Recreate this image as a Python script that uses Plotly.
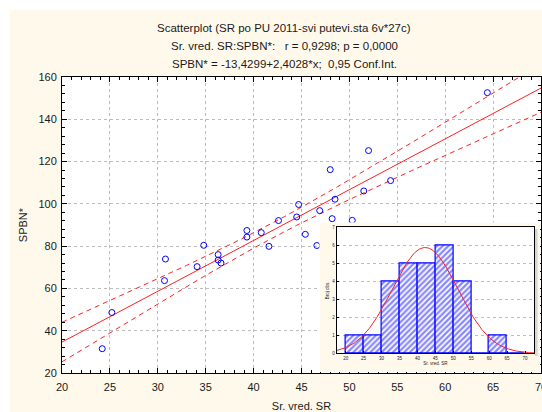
import numpy as np
import plotly.graph_objects as go

# Sr. vred. SR (x) and SPBN* (y) for the 27 cases
sr_mean = [24.2, 25.2, 30.8, 30.7, 34.1, 34.8, 36.3, 36.3, 36.6, 39.3, 39.3,
           40.8, 41.6, 42.6, 44.5, 44.7, 45.4, 46.6, 46.9, 48.0, 48.2, 48.5,
           50.3, 51.5, 52.0, 54.3, 64.4]
spbn = [31.5, 48.6, 73.9, 63.7, 70.3, 80.4, 76.0, 73.4, 72.0, 87.4, 84.3,
        86.4, 79.9, 92.1, 93.8, 99.7, 85.6, 80.3, 96.8, 116.2, 93.0, 102.2,
        92.2, 106.1, 125.2, 111.0, 152.6]

# fitted line and statistics reported in the header
intercept = -13.4299
slope = 2.4028
r_value = 0.9298
p_value = 0.0
conf_level = 0.95
t_crit = 2.0595  # Student t, 25 df, two-sided 95 %

x_ticks = list(range(20, 71, 5))
y_ticks = list(range(20, 161, 20))
hist_ticks = list(range(20, 71, 5))
hist_counts_ticks = list(range(0, 8))
bin_start, bin_size, bin_end = 20, 5, 70

x = np.array(sr_mean)
y = np.array(spbn)
n = len(x)


def dec(v, nd=4):
    return f"{v:.{nd}f}".replace(".", ",")


# regression line with its 95 % confidence band for the mean
xs = np.linspace(20, 70, 201)
fit = intercept + slope * xs
resid = y - (intercept + slope * x)
s_res = np.sqrt(np.sum(resid ** 2) / (n - 2))
sxx = np.sum((x - x.mean()) ** 2)
half = t_crit * s_res * np.sqrt(1.0 / n + (xs - x.mean()) ** 2 / sxx)

# histogram of x with a fitted normal curve
edges = np.arange(bin_start, bin_end + bin_size, bin_size)
counts, _ = np.histogram(x, bins=edges)
centers = edges[:-1] + bin_size / 2
mu, sd = x.mean(), x.std(ddof=1)
xn = np.linspace(17.5, 72.5, 300)
yn = n * bin_size / (sd * np.sqrt(2 * np.pi)) * np.exp(-0.5 * ((xn - mu) / sd) ** 2)

CREAM = "#fff9ec"
RED = "#ff2020"
BLUE = "#0000ff"
TXT = "#1a1a1a"
FONT = "Liberation Sans, Arial, sans-serif"

fig = go.Figure()

fig.add_trace(go.Scatter(x=xs, y=fit + half, mode="lines",
                         line=dict(color=RED, width=1, dash="5px,4px"),
                         hoverinfo="skip"))
fig.add_trace(go.Scatter(x=xs, y=fit - half, mode="lines",
                         line=dict(color=RED, width=1, dash="5px,4px"),
                         hoverinfo="skip"))
fig.add_trace(go.Scatter(x=xs, y=fit, mode="lines",
                         line=dict(color=RED, width=1), hoverinfo="skip"))
fig.add_trace(go.Scatter(x=x, y=y, mode="markers",
                         marker=dict(symbol="circle-open", size=6,
                                     color=BLUE, line=dict(width=1))))

# panel holding the inset histogram
fig.add_trace(go.Scatter(x=[], y=[], xaxis="x2", yaxis="y2", hoverinfo="skip"))

fig.add_trace(go.Bar(x=centers, y=counts, width=bin_size, xaxis="x3", yaxis="y3",
                     marker=dict(color="white",
                                 line=dict(color=BLUE, width=1.2),
                                 pattern=dict(shape="/", fgcolor="#1010ff",
                                              bgcolor="white", size=4,
                                              solidity=0.55))))
fig.add_trace(go.Scatter(x=xn, y=yn, mode="lines", xaxis="x3", yaxis="y3",
                         line=dict(color=RED, width=1), hoverinfo="skip"))

grid = dict(showgrid=True, gridcolor="#bdbdbd", griddash="dot", gridwidth=1)

fig.update_layout(
    width=542, height=412,
    margin=dict(l=62, r=1, t=77, b=39),
    paper_bgcolor=CREAM, plot_bgcolor="white",
    showlegend=False,
    font=dict(family=FONT, size=11, color=TXT),
    bargap=0,
    xaxis=dict(range=[20, 70], tickvals=x_ticks, ticks="inside", ticklen=5,
               tickcolor="black", showline=True, linecolor="black",
               linewidth=1, mirror="allticks", zeroline=False,
               ticklabeloverflow="allow", ticklabelstandoff=4,
               automargin=False,
               minor=dict(dtick=1, tick0=20, ticks="inside", ticklen=3,
                          tickcolor="black", showgrid=False),
               title=dict(text="Sr. vred. SR", standoff=12,
                          font=dict(size=11)),
               tickfont=dict(size=11), **grid),
    yaxis=dict(range=[20, 160], tickvals=y_ticks, ticks="inside", ticklen=5,
               tickcolor="black", showline=True, linecolor="black",
               linewidth=1, mirror="allticks", zeroline=False,
               ticklabelstandoff=2, automargin=False,
               minor=dict(dtick=4, tick0=20, ticks="inside", ticklen=3,
                          tickcolor="black", showgrid=False),
               title=dict(text="SPBN*", standoff=8, font=dict(size=11)),
               tickfont=dict(size=11), **grid),
    xaxis2=dict(domain=[0.5376, 0.998], range=[0, 1], visible=False,
                anchor="y2", fixedrange=True, automargin=False),
    yaxis2=dict(domain=[0.0034, 0.5084], range=[0, 1], visible=False,
                anchor="x2", fixedrange=True, automargin=False),
    xaxis3=dict(domain=[0.5735, 0.9854], range=[17.5, 72.5],
                tickvals=hist_ticks, ticks="inside", ticklen=2,
                tickcolor="black", showline=True, linecolor="black",
                linewidth=1, mirror=True, showgrid=False, zeroline=False,
                anchor="y3", tickfont=dict(size=4.5), automargin=False,
                title=dict(text="Sr. vred. SR", standoff=1,
                           font=dict(size=4.5))),
    yaxis3=dict(domain=[0.0666, 0.4916], range=[0, 7],
                tickvals=hist_counts_ticks, ticks="inside", ticklen=2,
                tickcolor="black", showline=True, linecolor="black",
                linewidth=1, mirror=True, zeroline=False,
                anchor="x3", tickfont=dict(size=4.5), automargin=False,
                title=dict(text="Broj obs.", standoff=2,
                           font=dict(size=4.5)),
                **grid),
    shapes=[
        # cream backing of the inset panel
        dict(type="rect", xref="x2", yref="y2", x0=0, x1=1, y0=0, y1=1,
             fillcolor=CREAM, line=dict(width=0), layer="below"),
        # soft shadow along the right edge of the inset frame
        dict(type="rect", xref="x2", yref="y2", x0=0.975, x1=0.989,
             y0=0.107, y1=0.957, fillcolor="#d6d6d6", line=dict(width=0),
             layer="below"),
        # white outer strips at the top and left of the canvas
        dict(type="rect", xref="paper", yref="paper", x0=-0.1294, x1=-0.1086,
             y0=-0.1318, y1=1.2601, fillcolor="white", line=dict(width=0),
             layer="above"),
        dict(type="rect", xref="paper", yref="paper", x0=-0.1294, x1=1.0021,
             y0=1.2264, y1=1.2601, fillcolor="white", line=dict(width=0),
             layer="above"),
    ],
    annotations=[
        dict(text="Scatterplot (SR po PU 2011-svi putevi.sta 6v*27c)",
             xref="paper", yref="paper", x=0.4635, y=1.1655,
             showarrow=False, xanchor="center", yanchor="middle",
             font=dict(size=11.5)),
        dict(text=f"Sr. vred. SR:SPBN*:   r = {dec(r_value)}; p = {dec(p_value)}",
             xref="paper", yref="paper", x=0.4635, y=1.1047,
             showarrow=False, xanchor="center", yanchor="middle",
             font=dict(size=11.5)),
        dict(text=f"SPBN* = {dec(intercept)}+{dec(slope)}*x;  "
                  f"{dec(conf_level, 2)} Conf.Int.",
             xref="paper", yref="paper", x=0.4635, y=1.0439,
             showarrow=False, xanchor="center", yanchor="middle",
             font=dict(size=11.5)),
    ],
)

fig.write_html("out.html")
